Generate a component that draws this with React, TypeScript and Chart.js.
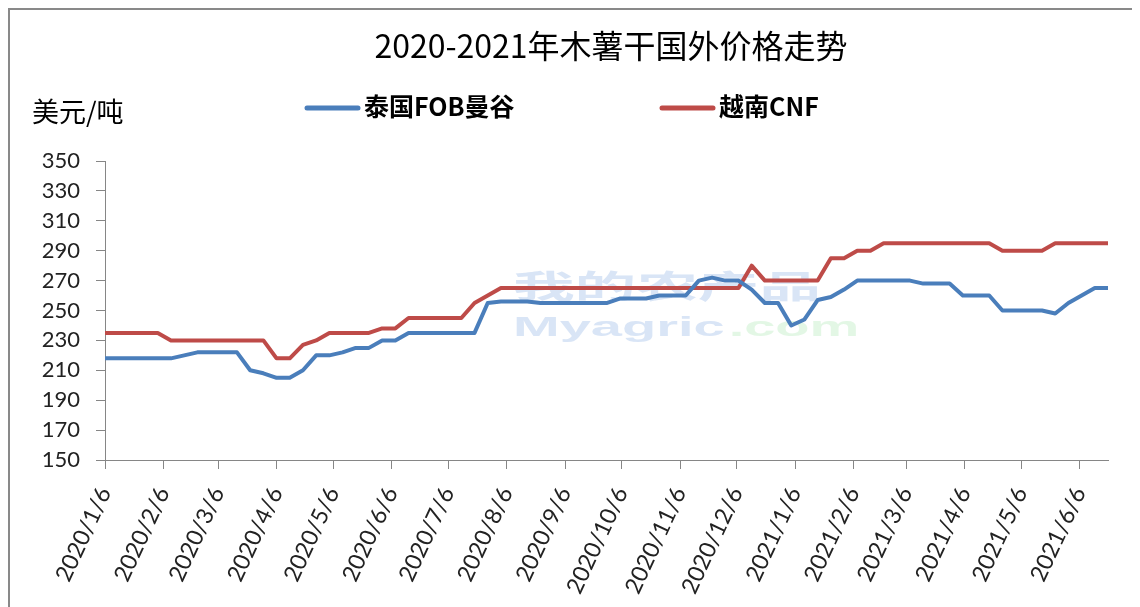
import React, { useEffect, useRef } from 'react';
import { Chart, registerables } from 'chart.js';

Chart.register(...registerables);

// ---------- data ----------
const dates = [
  '2020/1/6', '2020/1/13', '2020/1/20', '2020/1/27',
  '2020/2/3', '2020/2/10', '2020/2/17', '2020/2/24',
  '2020/3/2', '2020/3/9', '2020/3/16', '2020/3/23', '2020/3/30',
  '2020/4/6', '2020/4/13', '2020/4/20', '2020/4/27',
  '2020/5/4', '2020/5/11', '2020/5/18', '2020/5/25',
  '2020/6/1', '2020/6/8', '2020/6/15', '2020/6/22', '2020/6/29',
  '2020/7/6', '2020/7/13', '2020/7/20', '2020/7/27',
  '2020/8/3', '2020/8/10', '2020/8/17', '2020/8/24', '2020/8/31',
  '2020/9/7', '2020/9/14', '2020/9/21', '2020/9/28',
  '2020/10/5', '2020/10/12', '2020/10/19', '2020/10/26',
  '2020/11/2', '2020/11/9', '2020/11/16', '2020/11/23', '2020/11/30',
  '2020/12/7', '2020/12/14', '2020/12/21', '2020/12/28',
  '2021/1/4', '2021/1/11', '2021/1/18', '2021/1/25',
  '2021/2/1', '2021/2/8', '2021/2/15', '2021/2/22',
  '2021/3/1', '2021/3/8', '2021/3/15', '2021/3/22', '2021/3/29',
  '2021/4/5', '2021/4/12', '2021/4/19', '2021/4/26',
  '2021/5/3', '2021/5/10', '2021/5/17', '2021/5/24', '2021/5/31',
  '2021/6/7', '2021/6/14', '2021/6/21',
];

const thaiFOB = [
  218, 218, 218, 218, 218, 218, 220, 222, 222, 222, 222, 210, 208,
  205, 205, 210, 220, 220, 222, 225, 225, 230, 230, 235, 235, 235,
  235, 235, 235, 255, 256, 256, 256, 255, 255, 255, 255, 255, 255,
  258, 258, 258, 260, 260, 260, 270, 272, 270, 270, 264, 255, 255,
  240, 244, 257, 259, 264, 270, 270, 270, 270, 270, 268, 268, 268,
  260, 260, 260, 250, 250, 250, 250, 248, 255, 260, 265, 265,
];

const vietnamCNF = [
  235, 235, 235, 235, 235, 230, 230, 230, 230, 230, 230, 230, 230,
  218, 218, 227, 230, 235, 235, 235, 235, 238, 238, 245, 245, 245,
  245, 245, 255, 260, 265, 265, 265, 265, 265, 265, 265, 265, 265,
  265, 265, 265, 265, 265, 265, 265, 265, 265, 265, 280, 270, 270,
  270, 270, 270, 285, 285, 290, 290, 295, 295, 295, 295, 295, 295,
  295, 295, 295, 290, 290, 290, 290, 295, 295, 295, 295, 295,
];

const tickLabels = [
  '2020/1/6', '2020/2/6', '2020/3/6', '2020/4/6', '2020/5/6', '2020/6/6',
  '2020/7/6', '2020/8/6', '2020/9/6', '2020/10/6', '2020/11/6', '2020/12/6',
  '2021/1/6', '2021/2/6', '2021/3/6', '2021/4/6', '2021/5/6', '2021/6/6',
];

const yMin = 150;
const yMax = 350;
const yStep = 20;

const seriesNames = ['泰国FOB曼谷', '越南CNF'];
const seriesColors = ['#4A7EBB', '#BE4B48'];
const titleText = '2020-2021年木薯干国外价格走势';
const unitText = '美元/吨';

// ---------- helpers ----------
const START = Date.UTC(2020, 0, 6);
const dayOf = (s: string) => {
  const [y, m, d] = s.split('/').map(Number);
  return Math.round((Date.UTC(y, m - 1, d) - START) / 86400000);
};

const W = 1132;
const H = 600;
const AREA_LEFT = 95;
const AREA_RIGHT = 1098;
const AREA_TOP = 151;
const AREA_BOTTOM = 450;
const AXIS_COLOR = '#868686';

const decorPlugin = {
  id: 'decor',
  beforeDatasetsDraw(chart: any) {
    const ctx = chart.ctx as CanvasRenderingContext2D;
    ctx.save();
    // faint watermark
    ctx.globalAlpha = 0.5;
    ctx.fillStyle = '#B4CCEE';
    ctx.textBaseline = 'alphabetic';
    ctx.save();
    ctx.translate(503, 288);
    ctx.scale(2.2, 1.15);
    ctx.font = 'bold 28px "Noto Sans CJK SC"';
    ctx.fillText('我的农产品', 0, 0);
    ctx.restore();
    ctx.save();
    ctx.translate(503, 326);
    ctx.scale(2.0, 1);
    ctx.font = 'bold 28px "Liberation Sans"';
    ctx.fillText('Myagric', 0, 0);
    const w = ctx.measureText('Myagric').width;
    ctx.fillStyle = '#C8F0CC';
    ctx.fillText('.com', w + 2, 0);
    ctx.restore();
    ctx.restore();
  },
  afterDraw(chart: any) {
    const ctx = chart.ctx as CanvasRenderingContext2D;
    ctx.save();
    ctx.fillStyle = '#000';
    ctx.textBaseline = 'middle';
    // title
    ctx.textAlign = 'center';
    ctx.font = '400 32px "Noto Sans CJK SC"';
    ctx.fillText(titleText, 601, 36);
    // unit
    ctx.textAlign = 'left';
    ctx.font = '400 27px "Noto Sans CJK SC"';
    ctx.fillText(unitText, 22, 102);
    // legend
    const legendX = [295, 650];
    chart.data.datasets.forEach((ds: any, i: number) => {
      const x0 = legendX[i];
      ctx.strokeStyle = ds.borderColor;
      ctx.lineWidth = 5;
      ctx.lineCap = 'round';
      ctx.beginPath();
      ctx.moveTo(x0 + 2, 98);
      ctx.lineTo(x0 + 53, 98);
      ctx.stroke();
      ctx.fillStyle = '#000';
      ctx.font = 'bold 25px "Noto Sans CJK SC"';
      ctx.fillText(ds.label, x0 + 59, 96);
    });
    ctx.restore();
  },
};

export default function App() {
  const ref = useRef<HTMLCanvasElement>(null);

  useEffect(() => {
    document.body.style.overflow = 'hidden';
    const canvas = ref.current!;
    const series = [thaiFOB, vietnamCNF];
    const chart = new Chart(canvas, {
      type: 'line',
      data: {
        datasets: series.map((vals, si) => ({
          label: seriesNames[si],
          data: dates.map((d, i) => ({ x: dayOf(d), y: vals[i] })),
          borderColor: seriesColors[si],
          backgroundColor: seriesColors[si],
          borderWidth: 4,
          pointRadius: 0,
          tension: 0,
          borderJoinStyle: 'round',
          borderCapStyle: 'round',
        })),
      },
      options: {
        animation: false,
        responsive: false,
        devicePixelRatio: 1,
        layout: { padding: { top: AREA_TOP, right: W - AREA_RIGHT, left: 0, bottom: 0 } },
        plugins: {
          legend: { display: false },
          title: { display: false },
          tooltip: { enabled: false },
        },
        scales: {
          x: {
            type: 'linear',
            min: dayOf(dates[0]),
            max: dayOf(dates[dates.length - 1]),
            afterBuildTicks: (s: any) => {
              s.ticks = tickLabels.map((l) => ({ value: dayOf(l) }));
            },
            afterFit: (s: any) => {
              s.height = H - AREA_BOTTOM;
            },
            grid: {
              display: true,
              drawOnChartArea: false,
              drawTicks: true,
              tickLength: 9,
              color: AXIS_COLOR,
              lineWidth: 1,
            },
            border: { display: true, color: AXIS_COLOR, width: 1 },
            ticks: {
              autoSkip: false,
              minRotation: 65,
              maxRotation: 65,
              padding: 14,
              color: '#222',
              font: { family: 'Lato', size: 23 },
              callback: (v: any) => tickLabels.find((l) => dayOf(l) === v) ?? '',
            },
          },
          y: {
            type: 'linear',
            min: yMin,
            max: yMax,
            afterFit: (s: any) => {
              s.width = AREA_LEFT;
            },
            grid: {
              display: true,
              drawOnChartArea: false,
              drawTicks: true,
              tickLength: 9,
              color: AXIS_COLOR,
              lineWidth: 1,
            },
            border: { display: true, color: AXIS_COLOR, width: 1 },
            ticks: {
              stepSize: yStep,
              autoSkip: false,
              padding: 16,
              color: '#222',
              font: { family: 'Lato', size: 22 },
            },
          },
        },
      },
      plugins: [decorPlugin],
    } as any);
    return () => chart.destroy();
  }, []);

  return (
    <div
      style={{
        width: W,
        height: H,
        border: '2px solid #898989',
        background: '#fff',
      }}
    >
      <canvas ref={ref} width={W} height={H} style={{ display: 'block', width: W, height: H }} />
    </div>
  );
}
